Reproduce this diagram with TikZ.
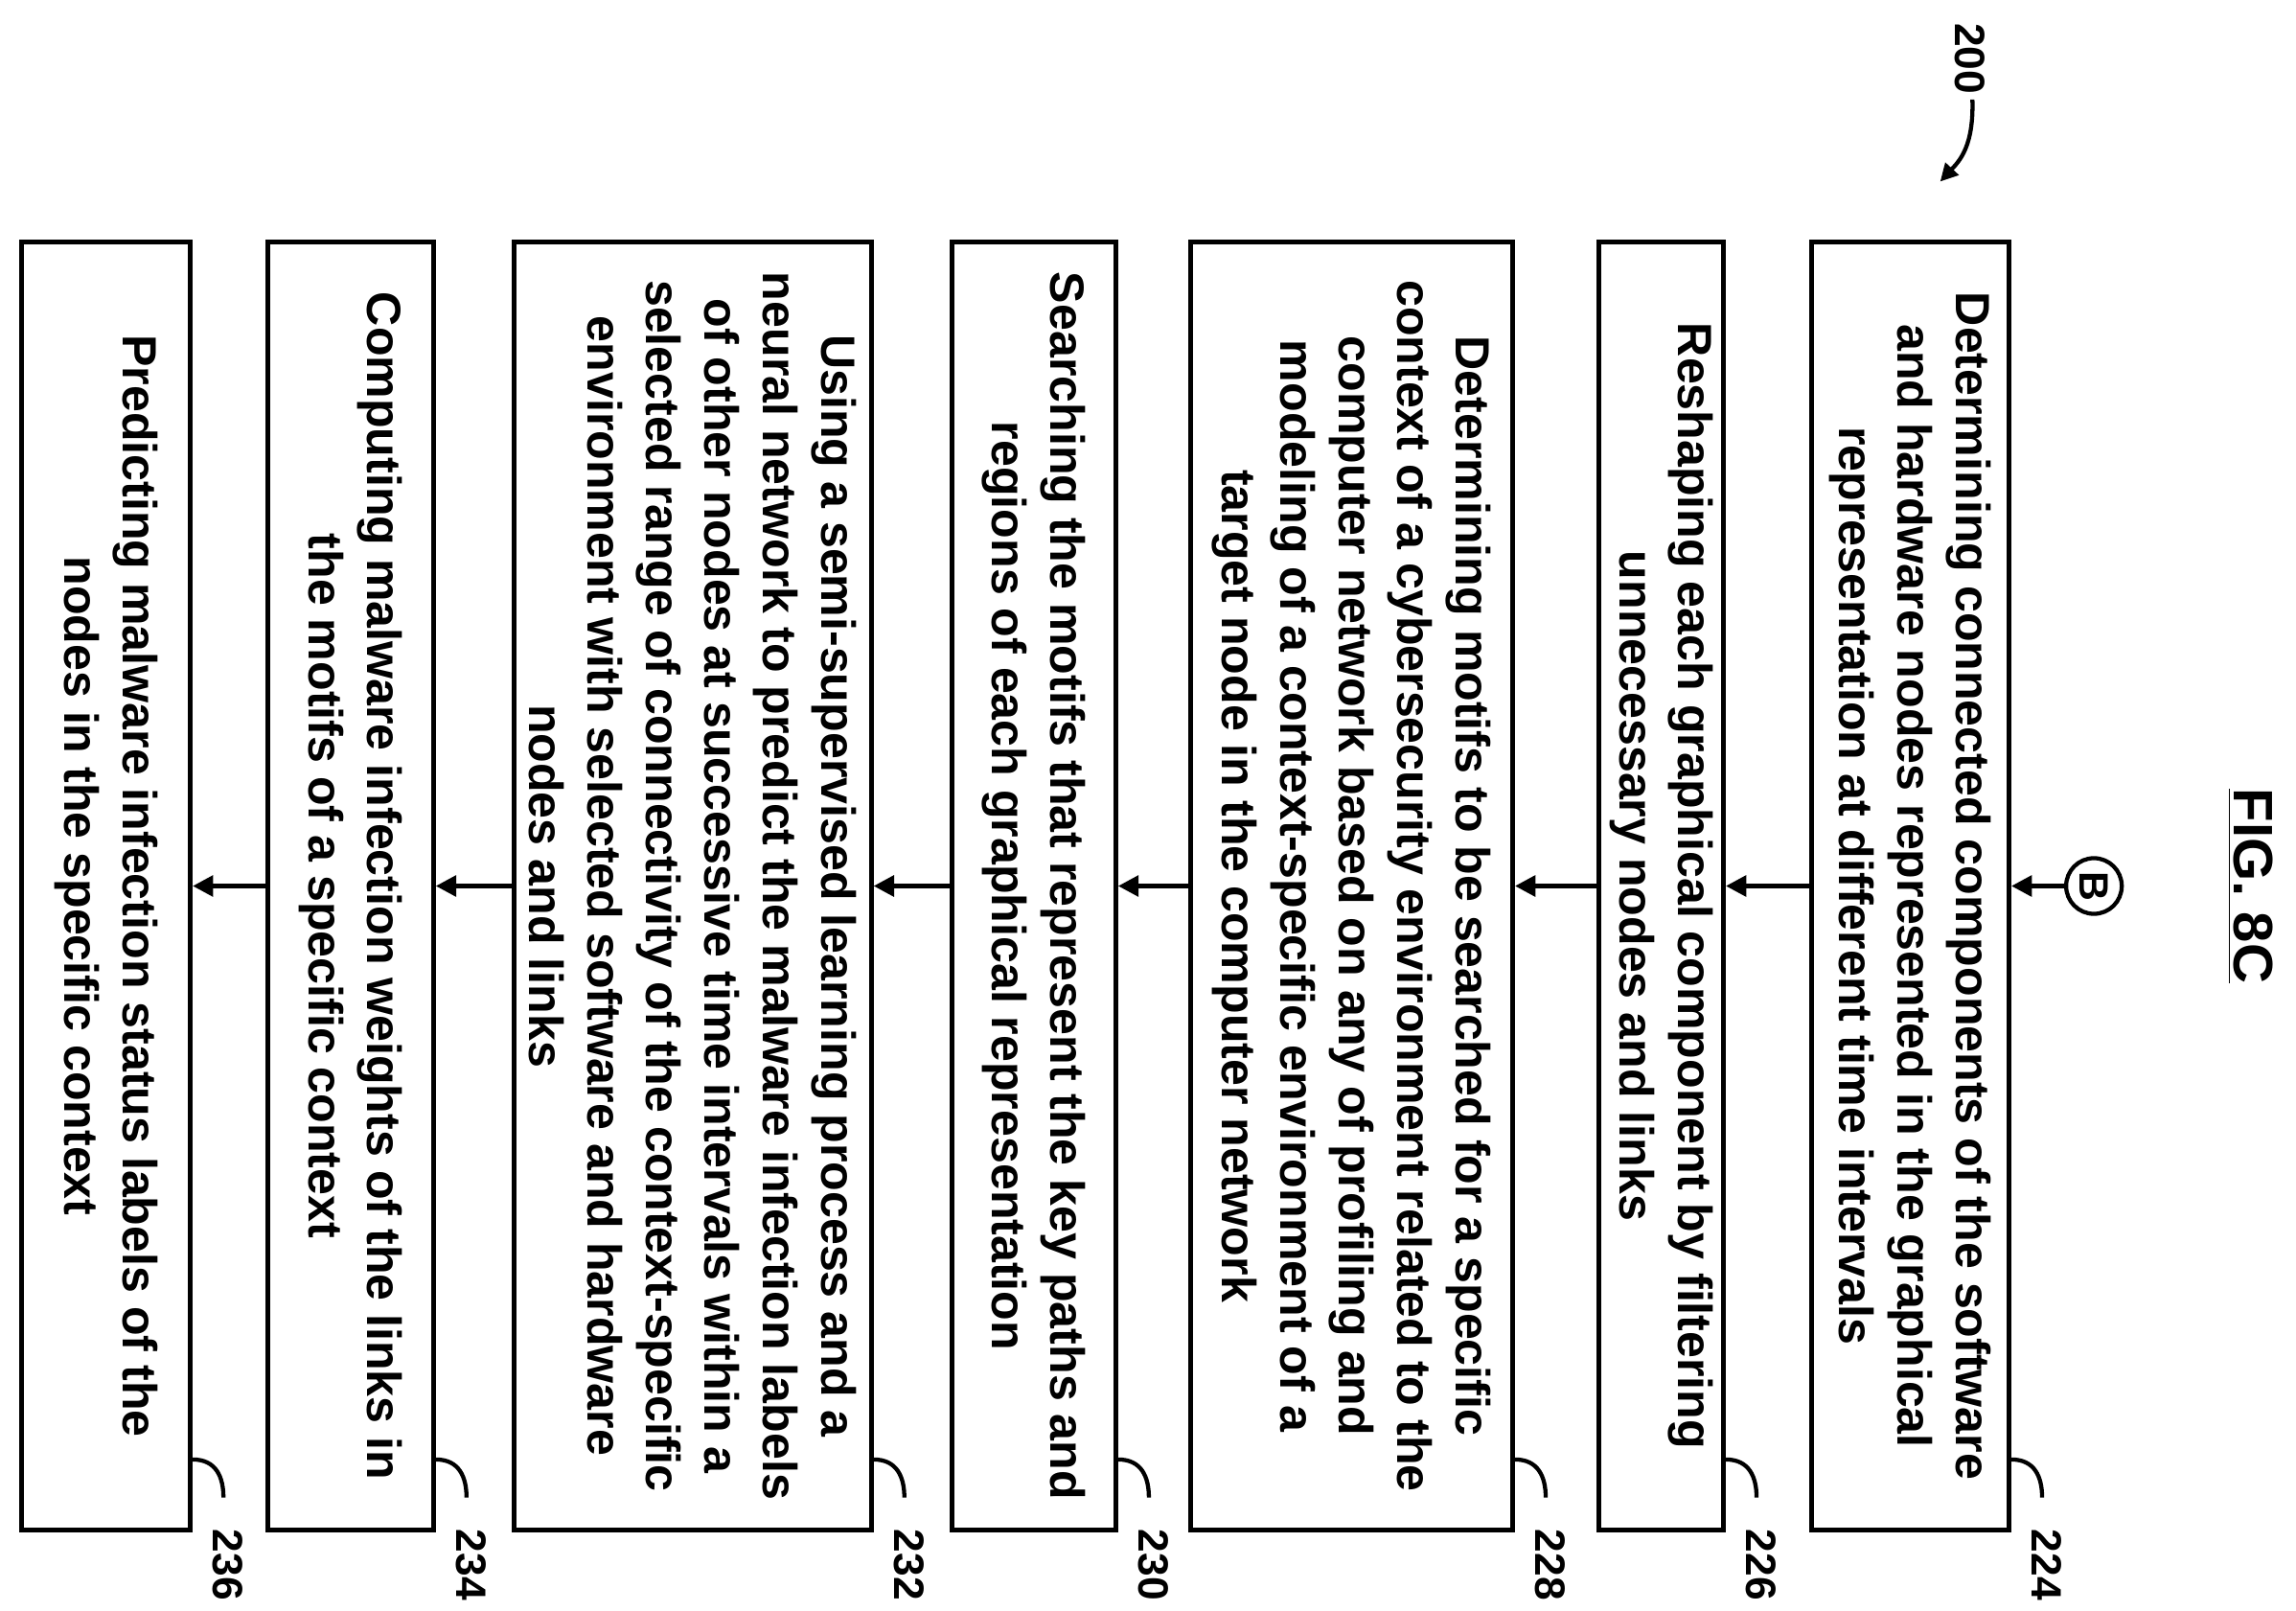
\documentclass[tikz,border=0pt]{standalone}
\usepackage{fontspec}
\setmainfont{Liberation Sans}
\usetikzlibrary{arrows.meta}
\tikzset{
  stepbox/.style={draw, line width=1.6pt, rotate=-90, minimum width=440pt, inner sep=0pt, align=center,
    font=\fontsize{16.4}{20}\selectfont\bfseries},
  flow/.style={line width=1.6pt, -{Triangle[length=7pt,width=7pt]}},
  reflbl/.style={rotate=-90, font=\fontsize{14.5}{16}\selectfont\bfseries},
}
\newcommand{\steptag}[2]{%
  \draw[line width=1.4pt] ([yshift=-25pt]#1.north east) .. controls +(16,0) and +(0,-14) .. ++(21,26);
  \path ([yshift=-25pt]#1.north east) ++(24,72) node [reflbl] {#2};}
\begin{document}
\begin{tikzpicture}[x=0.5pt,y=0.5pt,yscale=-1,xscale=1]
\useasboundingbox (0,0) rectangle (1568,1100);

% Title and reference
\draw (1537,605) node [rotate=-90, font=\fontsize{19}{22}\selectfont\bfseries] (fig) {\underline{FIG. 8C}};
\draw (1345,40) node [reflbl] (n200) {200};
\draw [line width=1.4pt, -{Triangle[length=6pt,width=6pt]}] (1347,68) .. controls (1348,100) and (1338,110) .. (1325,124);

% Connector B
\draw [line width=1.4pt] (1430,605) node [circle, draw, line width=1.4pt, minimum size=19pt, inner sep=0pt, rotate=-90, font=\fontsize{14}{16}\selectfont\bfseries] (conB) {B};

% Step boxes
\draw (1304.5,605) node [stepbox, minimum height=67.5pt] (b224) {Determining connected components of the software\\and hardware nodes represented in the graphical\\representation at different time intervals};
\draw (1134.5,605) node [stepbox, minimum height=42.5pt] (b226) {Reshaping each graphical component by filtering\\unnecessary nodes and links};
\draw (923,605) node [stepbox, minimum height=110pt] (b228) {Determining motifs to be searched for a specific\\context of a cybersecurity environment related to the\\computer network based on any of profiling and\\modeling of a context-specific environment of a\\target node in the computer network};
\draw (706,605) node [stepbox, minimum height=56pt] (b230) {Searching the motifs that represent the key paths and\\regions of each graphical representation};
\draw (473,605) node [stepbox, minimum height=122pt] (b232) {Using a semi-supervised learning process and a\\neural network to predict the malware infection labels\\of other nodes at successive time intervals within a\\selected range of connectivity of the context-specific\\environment with selected software and hardware\\nodes and links};
\draw (239.5,605) node [stepbox, minimum height=56.5pt] (b234) {Computing malware infection weights of the links in\\the motifs of a specific context};
\draw (72.5,605) node [stepbox, minimum height=57.5pt] (b236) {Predicting malware infection status labels of the\\nodes in the specific context};

% Arrows
\draw [flow] (conB) -- (b224.north);
\draw [flow] (b224.south) -- (b226.north);
\draw [flow] (b226.south) -- (b228.north);
\draw [flow] (b228.south) -- (b230.north);
\draw [flow] (b230.south) -- (b232.north);
\draw [flow] (b232.south) -- (b234.north);
\draw [flow] (b234.south) -- (b236.north);

% Reference numerals
\steptag{b224}{224}
\steptag{b226}{226}
\steptag{b228}{228}
\steptag{b230}{230}
\steptag{b232}{232}
\steptag{b234}{234}
\steptag{b236}{236}

\end{tikzpicture}
\end{document}
